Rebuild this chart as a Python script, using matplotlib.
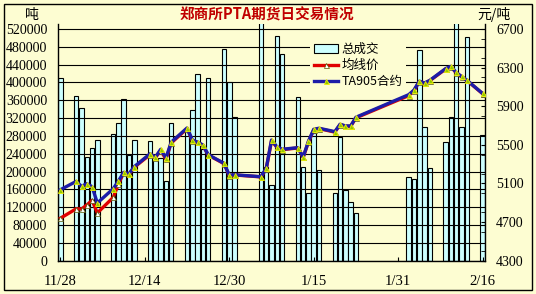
import matplotlib
matplotlib.use("Agg")
import matplotlib.pyplot as plt
import matplotlib.dates as mdates
from matplotlib.patches import Rectangle, Patch
from matplotlib.lines import Line2D
from matplotlib.ticker import MultipleLocator
import pandas as pd

plt.rcParams['font.family'] = ['Liberation Serif', 'Noto Sans CJK SC', 'DejaVu Sans']

title = "郑商所PTA期货日交易情况"
left_unit = "吨"
right_unit = "元/吨"
series_names = ["总成交", "均线价", "TA905合约"]

dates = ["2008-11-28",
         "2008-12-01", "2008-12-02", "2008-12-03", "2008-12-04", "2008-12-05",
         "2008-12-08", "2008-12-09", "2008-12-10", "2008-12-11", "2008-12-12",
         "2008-12-15", "2008-12-16", "2008-12-17", "2008-12-18", "2008-12-19",
         "2008-12-22", "2008-12-23", "2008-12-24", "2008-12-25", "2008-12-26",
         "2008-12-29", "2008-12-30", "2008-12-31",
         "2009-01-05", "2009-01-06", "2009-01-07", "2009-01-08", "2009-01-09",
         "2009-01-12", "2009-01-13", "2009-01-14", "2009-01-15", "2009-01-16",
         "2009-01-19", "2009-01-20", "2009-01-21", "2009-01-22", "2009-01-23",
         "2009-02-02", "2009-02-03", "2009-02-04", "2009-02-05", "2009-02-06",
         "2009-02-09", "2009-02-10", "2009-02-11", "2009-02-12", "2009-02-13",
         "2009-02-16"]

volume = [409000,
          370000, 342000, 233000, 254000, 272000,
          284000, 308000, 362000, 237000, 272000,
          268000, 226000, 230000, 178000, 308000,
          293000, 338000, 419000, 250000, 411000,
          474000, 400000, 322000,
          535000, 211000, 170000, 504000, 464000,
          368000, 211000, 152000, 286000, 204000,
          153000, 278000, 159000, 131000, 108000,
          187000, 184000, 473000, 301000, 207000,
          266000, 322000, 535000, 300000, 501000,
          281000]

avg_price = [4740,
             4838, 4835, 4877, 4925, 4795,
             4955, 5095, 5212, 5196, 5268,
             5400, 5368, 5440, 5352, 5520,
             5668, 5545, 5525, 5494, 5395,
             5305, 5180, 5188,
             5168, 5250, 5540, 5478, 5450,
             5468, 5370, 5530, 5655, 5668,
             5632, 5710, 5692, 5692, 5780,
             6010, 6062, 6155, 6138, 6165,
             6286, 6308, 6246, 6205, 6168,
             6030]

ta905 = [5035,
         5122, 5070, 5098, 5067, 4898,
         5045, 5126, 5215, 5200, 5274,
         5408, 5372, 5454, 5365, 5528,
         5675, 5550, 5527, 5499, 5398,
         5309, 5185, 5190,
         5170, 5257, 5550, 5481, 5454,
         5471, 5374, 5538, 5661, 5672,
         5637, 5714, 5696, 5696, 5786,
         6020, 6068, 6160, 6141, 6168,
         6290, 6313, 6250, 6208, 6170,
         6032]

tick_dates = ["2008-11-28", "2008-12-14", "2008-12-30", "2009-01-15", "2009-01-31", "2009-02-16"]
tick_labels = ["11/28", "12/14", "12/30", "1/15", "1/31", "2/16"]

W, H = 536, 294
bg = '#FDFDD2'
fig = plt.figure(figsize=(W / 100, H / 100), dpi=100, facecolor=bg)

ax_left, ax_right = 57.5, 485.0
ax_bottom, ax_top = 260.7, 24.0
ax = fig.add_axes([ax_left / W, 1 - ax_bottom / H, (ax_right - ax_left) / W, (ax_bottom - ax_top) / H])
ax.set_facecolor(bg)

x = pd.to_datetime(dates)
ax.bar(x, volume, width=0.85, color='#CCFFFF', edgecolor='black', linewidth=0.8, zorder=2)

top_scale = (ax_bottom - ax_top) / (ax_bottom - 29.0)
ax.set_ylim(0, 520000 * top_scale)
ax.set_yticks(range(0, 520001, 40000))
ax.set_yticklabels([str(v) for v in range(0, 520001, 40000)])
ax.grid(axis='y', color='black', linewidth=0.8, zorder=3)
ax.set_axisbelow(False)

x0 = pd.Timestamp("2008-11-28")
ax.set_xlim(mdates.date2num(x0) - 0.55, mdates.date2num(pd.Timestamp("2009-02-16")) + 0.45)
ax.set_xticks(pd.to_datetime(tick_dates))
ax.set_xticklabels(tick_labels)

ax.tick_params(axis='y', length=0, pad=7.5, labelsize=10)
ax.tick_params(axis='x', direction='in', length=3, pad=10, labelsize=10.5)
ax.spines['top'].set_visible(False)
ax.spines['left'].set_linewidth(1)
ax.spines['bottom'].set_linewidth(1)
ax.spines['right'].set_visible(False)

ax2 = ax.twinx()
ax2.set_ylim(4300, 4300 + 2400 * top_scale)
ax2.yaxis.set_major_locator(MultipleLocator(400))
ax2.yaxis.set_minor_locator(MultipleLocator(200))
ax2.set_yticks(range(4300, 6701, 400))
ax2.tick_params(axis='y', which='both', direction='in', length=3, pad=8, labelsize=10)
ax2.spines['top'].set_visible(False)
ax2.spines['left'].set_visible(False)
ax2.spines['bottom'].set_visible(False)
ax2.spines['right'].set_linewidth(1)

ms = 3.6
ax2.plot(x, avg_price, color='#E00000', lw=2.4, marker='^', ms=ms,
         mfc='white', mec='#555500', mew=0.5, zorder=4)
ax2.plot(x, ta905, color='#1C1CA8', lw=2.4, marker='^', ms=ms,
         mfc='#90C800', mec='#F0F000', mew=0.6, zorder=5)

handles = [Patch(facecolor='#CCFFFF', edgecolor='black', linewidth=0.8),
           Line2D([], [], color='#E00000', lw=2.4, marker='^', ms=ms, mfc='white', mec='#555500', mew=0.5),
           Line2D([], [], color='#1C1CA8', lw=2.4, marker='^', ms=ms, mfc='#90C800', mec='#F0F000', mew=0.6)]
leg = ax2.legend(handles, series_names, loc='upper left',
                 bbox_to_anchor=(310 / W, 1 - 39 / H), bbox_transform=fig.transFigure,
                 frameon=True, facecolor=bg, edgecolor='none', framealpha=1,
                 handlelength=1.9, handletextpad=0.3, labelspacing=0.25,
                 borderpad=0.3, borderaxespad=0,
                 prop={'family': ['Noto Sans CJK SC', 'DejaVu Sans'], 'size': 9})
leg.set_zorder(10)

fig.text(267 / W, 1 - 15 / H, title, ha='center', va='center', color='#C00000',
         fontsize=10.5, fontweight='bold', family=['Noto Sans CJK SC'])
fig.text(32 / W, 1 - 15 / H, left_unit, ha='center', va='center', fontsize=10,
         family=['Noto Sans CJK SC'])
fig.text(494 / W, 1 - 15 / H, right_unit, ha='center', va='center', fontsize=10,
         family=['Noto Sans CJK SC'])

fig.patches.append(Rectangle((4 / W, 1 - 290 / H), 528 / W, 286 / H, transform=fig.transFigure,
                             fill=False, edgecolor='black', linewidth=1))

fig.savefig("out.png", dpi=100, facecolor=bg)
